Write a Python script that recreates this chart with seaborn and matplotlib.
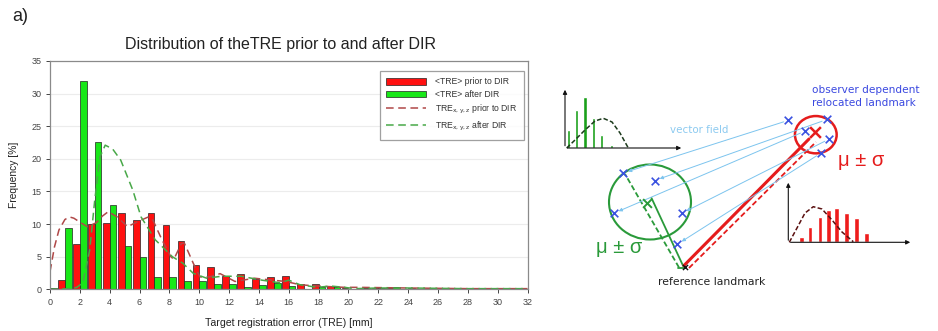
import numpy as np
import pandas as pd
import matplotlib
matplotlib.use("Agg")
import matplotlib.pyplot as plt
import seaborn as sns
from matplotlib.patches import Patch, Ellipse
from matplotlib.lines import Line2D

# ---------------- data ----------------
bins = list(range(0, 32))
tre_prior = [0.0, 1.4, 7.0, 10.0, 10.2, 11.7, 10.7, 11.7, 9.9, 7.4, 3.7, 3.4, 2.1, 2.4, 1.6, 1.9,
             2.0, 0.8, 0.8, 0.5, 0.2, 0.2, 0.2, 0.2, 0.1, 0.1, 0.0, 0.2, 0.1, 0.0, 0.0, 0.2]
tre_after = [0.2, 9.4, 32.0, 22.6, 12.9, 6.7, 4.9, 1.9, 1.9, 1.2, 1.2, 0.8, 0.8, 0.4, 0.7, 0.9,
             0.5, 0.1, 0.4, 0.3, 0.1, 0.2, 0.2, 0.3, 0.2, 0.0, 0.0, 0.0, 0.1, 0.0, 0.0, 0.0]

fit_prior_x = [0.0, 0.3, 0.6, 1.0, 1.3, 1.6, 2.0, 2.5, 3.1, 3.5, 3.9, 4.5, 5.2, 5.9, 6.6, 6.9, 7.5,
               8.1, 8.3, 8.8, 9.0, 9.6, 10.05, 10.7, 11.4, 12.4, 13.7, 14.9, 15.8, 16.75, 17.9,
               19.75, 20.7, 24.0, 28.0, 32.0]
fit_prior_y = [2.7, 6.5, 9.1, 10.7, 11.1, 10.9, 10.3, 9.6, 10.2, 11.2, 11.9, 11.1, 9.6, 10.4, 11.1,
               10.6, 7.6, 5.0, 4.6, 7.0, 7.1, 4.0, 1.9, 1.9, 2.4, 1.2, 1.7, 1.4, 1.2, 0.7, 0.5,
               0.3, 0.3, 0.2, 0.1, 0.1]
fit_after_x = [0.0, 1.3, 1.8, 2.2, 2.66, 3.0, 3.35, 3.7, 4.2, 4.74, 5.55, 6.1, 7.05, 8.2, 8.9, 9.6,
               10.5, 11.5, 12.8, 14.2, 15.4, 16.0, 16.75, 17.9, 18.8, 19.75, 20.4, 22.0, 24.0,
               28.0, 32.0]
fit_after_y = [0.0, 0.1, 0.3, 1.0, 6.0, 13.7, 20.3, 22.1, 21.5, 19.8, 15.2, 11.1, 7.6, 5.0, 4.0,
               2.45, 1.7, 2.0, 2.0, 1.4, 1.0, 1.4, 0.7, 0.3, 0.5, 0.3, 0.1, 0.2, 0.2, 0.1, 0.1]

series_names = ["<TRE> prior to DIR", "<TRE> after DIR"]
fit_names = ["TRE$_{\\rm x,y,z}$ prior to DIR", "TRE$_{\\rm x,y,z}$ after DIR"]
x_ticks = list(range(0, 33, 2))
y_ticks = list(range(0, 36, 5))

# diagram (illustration) elements, in figure pixel coordinates
green_hist_x = [568.3, 576.7, 585.0, 593.3, 601.7, 611.7]
green_hist_h = [18, 38, 50.7, 29.7, 13, 3]
green_curve_x = [566.7, 575, 585, 595, 603.3, 612, 620, 628.3]
green_curve_y = [148, 140, 130, 121, 118.3, 122, 133, 148]
red_hist_x = [801.7, 810.0, 820.0, 828.3, 836.7, 846.7, 856.7, 866.7]
red_hist_h = [5.6, 15.6, 25.6, 32.3, 34, 29, 24, 9]
red_curve_x = [789.3, 797, 805, 813.3, 822, 832, 842, 853.3]
red_curve_y = [242.3, 228, 213, 206.7, 209, 220, 232, 241.7]
blue_top_x = [788.3, 826.7, 805.0, 829.3, 821.0]
blue_top_y = [120.0, 119.3, 131.0, 139.0, 153.3]
blue_green_x = [623.3, 655.0, 614.0, 681.7, 677.3]
blue_green_y = [173.3, 180.7, 213.3, 213.3, 244.0]

RED = "#ff1010"
GREEN = "#18e818"
FIT_RED = "#b04848"
FIT_GREEN = "#48a848"

sns.set_theme(style="white")
plt.rcParams["font.family"] = ["Liberation Sans", "DejaVu Sans"]

W, H = 938, 331
fig = plt.figure(figsize=(W / 100, H / 100), dpi=100)

# ---------------- main chart ----------------
AX_L, AX_R, AX_T, AX_B = 50, 527.5, 61, 289.3
ax = fig.add_axes([AX_L / W, 1 - AX_B / H, (AX_R - AX_L) / W, (AX_B - AX_T) / H])
df = pd.DataFrame({
    "bin": bins * 2,
    "freq": tre_prior + tre_after,
    "series": [series_names[0]] * len(bins) + [series_names[1]] * len(bins),
})
sns.barplot(data=df, x="bin", y="freq", hue="series", palette=[RED, GREEN], width=0.9,
            edgecolor="#222222", linewidth=0.5, ax=ax, legend=False, saturation=1)
sns.lineplot(x=fit_prior_x, y=fit_prior_y, ax=ax, color=FIT_RED, linewidth=1.1,
             sort=False, estimator=None)
ax.lines[-1].set_dashes((5, 3))
sns.lineplot(x=fit_after_x, y=fit_after_y, ax=ax, color=FIT_GREEN, linewidth=1.1,
             sort=False, estimator=None)
ax.lines[-1].set_dashes((5, 3))

ax.set_xlim(0, 32)
ax.set_ylim(0, 35)
ax.set_xticks(x_ticks)
ax.set_xticklabels([str(t) for t in x_ticks])
ax.set_yticks(y_ticks)
ax.set_yticklabels([str(t) for t in y_ticks])
for yv in y_ticks[1:-1]:
    ax.axhline(yv, color="#ececec", linewidth=0.8, zorder=0)
ax.tick_params(axis="both", labelsize=6.5, colors="#444444", length=3, width=0.7,
               direction="out", bottom=True, left=True, pad=3)
for s in ax.spines.values():
    s.set_color("#8a8a8a")
    s.set_linewidth(0.9)
ax.set_xlabel("Target registration error (TRE) [mm]", fontsize=7.6, color="#222222", labelpad=8)
ax.set_ylabel("Frequency [%]", fontsize=7.4, color="#222222", labelpad=9)
ax.set_title("Distribution of theTRE prior to and after DIR", fontsize=11.5, color="#222222",
             pad=9, x=0.483)

handles = [Patch(facecolor=RED, edgecolor="#222222", linewidth=0.5),
           Patch(facecolor=GREEN, edgecolor="#222222", linewidth=0.5),
           Line2D([], [], color=FIT_RED, linewidth=1.1, dashes=(5, 3)),
           Line2D([], [], color=FIT_GREEN, linewidth=1.1, dashes=(5, 3))]
leg = ax.legend(handles, series_names + fit_names, loc="upper right", fontsize=6.2,
                frameon=True, fancybox=False, edgecolor="#888888", handlelength=4.6,
                handleheight=0.8, labelspacing=0.45, borderpad=0.75, handletextpad=1.1,
                bbox_to_anchor=(0.993, 0.957), borderaxespad=0)
leg.get_frame().set_linewidth(0.9)
for t in leg.get_texts():
    t.set_color("#333333")

fig.text(12 / W, 1 - 8 / H, "a)", fontsize=13, ha="left", va="top", color="#222222")

# ---------------- diagram ----------------
ad = fig.add_axes([540 / W, 0, (W - 540) / W, 1])
ad.set_xlim(540, W)
ad.set_ylim(H, 0)
ad.axis("off")

arrow_kw = dict(arrowstyle="-|>", color="#111111", lw=0.8, mutation_scale=6)
# green small histogram
ad.annotate("", xy=(565, 87), xytext=(565, 148.5), arrowprops=arrow_kw)
ad.annotate("", xy=(684, 148), xytext=(564.5, 148), arrowprops=arrow_kw)
ad.bar(green_hist_x, [-h for h in green_hist_h], bottom=148, width=3.2, color="#1aa01a")
ad.plot(green_curve_x, green_curve_y, color="#1c3a1c", lw=1.1, dashes=(3, 1.5))
# red small histogram
ad.annotate("", xy=(788.3, 180), xytext=(788.3, 243), arrowprops=arrow_kw)
ad.annotate("", xy=(913, 242.3), xytext=(787.8, 242.3), arrowprops=arrow_kw)
ad.bar(red_hist_x, [-h for h in red_hist_h], bottom=242.3, width=4.8, color="#ee1c1c")
ad.plot(red_curve_x, red_curve_y, color="#5a1010", lw=1.1, dashes=(3, 1.5))

# vector field lines (arrowheads at the green side)
for (x0, y0), (x1, y1) in zip(zip(blue_top_x, blue_top_y), zip(blue_green_x, blue_green_y)):
    ad.annotate("", xy=(x1 + 2, y1 - 1), xytext=(x0 - 2, y0 + 1),
                arrowprops=dict(arrowstyle="-|>", color="#7cc4ee", lw=0.7, mutation_scale=5))

# ellipses
ad.add_patch(Ellipse((650, 202), 82, 75, fill=False, edgecolor="#2a9a3a", lw=1.5))
ad.add_patch(Ellipse((815.8, 134.7), 41.7, 37.3, fill=False, edgecolor="#e51c1c", lw=1.8))

# lines to reference landmark
ad.plot([683.5, 651.5], [266.7, 198], color="#2a9a3a", lw=1.3)
ad.plot([679, 625], [267.5, 174], color="#2a9a3a", lw=1.3, dashes=(3, 1.5))
ad.plot([678, 684], [267.8, 267.8], color="#2a9a3a", lw=1.3)
ad.plot([684, 809], [265.5, 139], color="#e51c1c", lw=2.2)
ad.plot([689, 816], [268, 142], color="#e51c1c", lw=1.3, dashes=(3, 1.5))

# markers
ad.scatter(blue_top_x + blue_green_x, blue_top_y + blue_green_y, marker="x", s=30,
           color="#3a52e0", linewidths=1.2, zorder=5)
ad.scatter([815], [131.7], marker="x", s=60, color="#e51c1c", linewidths=1.8, zorder=6)
ad.scatter([646.7], [202.7], marker="x", s=40, color="#2a9a3a", linewidths=1.4, zorder=6)
ad.scatter([685], [266.7], marker="x", s=14, color="#111111", linewidths=1.0, zorder=6)

# diagram texts
dv = ["DejaVu Sans"]
ad.text(699, 130, "vector field", fontsize=7.4, color="#8ccaf0", ha="center", va="center",
        family=dv)
ad.text(812, 90, "observer dependent", fontsize=7.6, color="#3a48e0", ha="left", va="center",
        family=dv)
ad.text(812, 102.5, "relocated landmark", fontsize=7.6, color="#3a48e0", ha="left", va="center",
        family=dv)
ad.text(861, 161, "μ ± σ", fontsize=14.5, color="#e51c1c", ha="center", va="center")
ad.text(619, 247.5, "μ ± σ", fontsize=14.5, color="#2a9a3a", ha="center", va="center")
ad.text(711.5, 282, "reference landmark", fontsize=7.8, color="#222222", ha="center",
        va="center", family=dv)

fig.savefig("out.png", dpi=100)
